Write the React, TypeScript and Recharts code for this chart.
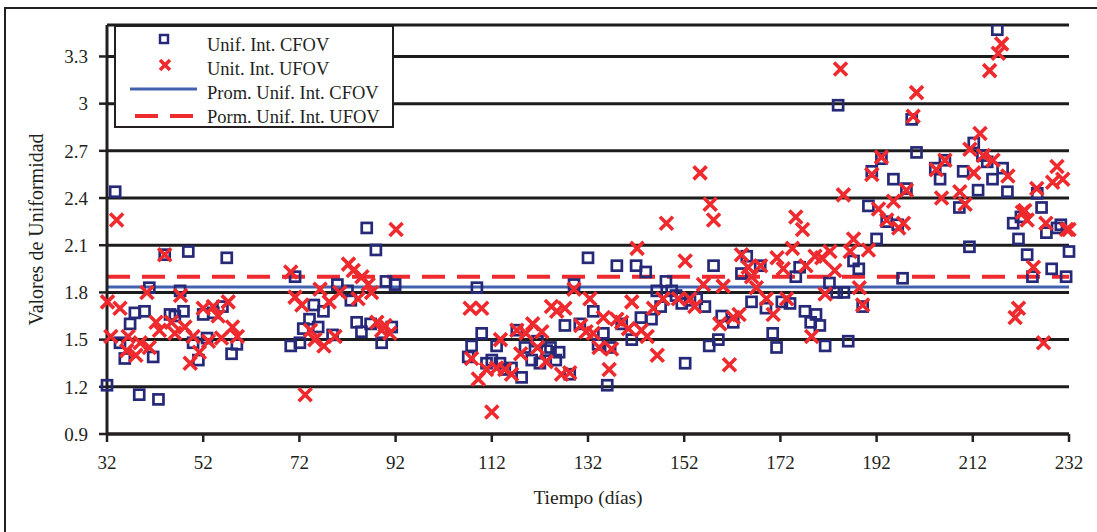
import { CartesianGrid, Label, Legend, ReferenceLine, Scatter, ScatterChart, XAxis, YAxis } from 'recharts';

const dayTicks = [32, 52, 72, 92, 112, 132, 152, 172, 192, 212, 232];
const valueTicks = [0.9, 1.2, 1.5, 1.8, 2.1, 2.4, 2.7, 3, 3.3];

// [día, valor]
const cfovPoints: [number, number][] = [
  [33.7, 2.44], [32, 1.21], [38.7, 1.15], [42.7, 1.12], [34.7, 1.48], [35.7, 1.38], [36.8, 1.6], [37.8, 1.67],
  [39.8, 1.68], [41.6, 1.39], [40.8, 1.83], [44, 2.04], [45.1, 1.66], [46.1, 1.65], [47.9, 1.68], [48.9, 2.06],
  [47.2, 1.81], [49.9, 1.48], [51, 1.37], [52, 1.66], [52.8, 1.51], [54.1, 1.67], [56, 1.71], [56.9, 2.02],
  [57.9, 1.41], [59, 1.47],
  [70.2, 1.46], [72.1, 1.48], [71.1, 1.9], [72.8, 1.57], [74.1, 1.63], [75, 1.72], [75.9, 1.58], [77, 1.68],
  [78.9, 1.53], [79.9, 1.85], [82, 1.81], [82.7, 1.75], [83.9, 1.61], [84.9, 1.55], [86, 2.21], [86.8, 1.6],
  [87.9, 2.07], [89.1, 1.48], [90, 1.87], [91.9, 1.85], [91.2, 1.58],
  [108.9, 1.83], [107.8, 1.46], [107.1, 1.39], [109.9, 1.54], [110.9, 1.35], [112, 1.37], [113, 1.46], [113.7, 1.35],
  [114.7, 1.31], [116.1, 1.32], [117.2, 1.56], [118.2, 1.26], [118.9, 1.45], [120.3, 1.37], [121.5, 1.49], [122, 1.35],
  [123.4, 1.43], [124.2, 1.45], [125.3, 1.37], [126, 1.42], [127.2, 1.59], [128.2, 1.28], [129.1, 1.85], [130.3, 1.6],
  [132, 2.02], [133.1, 1.68], [134.1, 1.47], [135.2, 1.54], [136, 1.21], [136.6, 1.45], [138, 1.97], [139, 1.6],
  [141.1, 1.5], [142, 1.97], [143, 1.64], [144, 1.93], [145.2, 1.63], [146.3, 1.81], [147.1, 1.71], [148.2, 1.87],
  [149.4, 1.81], [150.3, 1.78], [151.5, 1.73], [152.2, 1.35], [153.2, 1.75],
  [154.6, 1.76], [156.3, 1.71], [157.2, 1.46], [158.1, 1.97], [159.1, 1.5], [159.8, 1.65], [162.2, 1.61], [163.9, 1.92],
  [165, 2.03], [166, 1.74], [167.8, 1.97], [169, 1.7], [170.4, 1.54], [171.2, 1.45], [172.3, 1.74], [174, 1.73],
  [175.2, 1.9], [176, 1.96], [177.1, 1.68], [178.3, 1.61], [179.4, 1.66], [180.2, 1.59], [181.3, 1.46], [182.2, 1.86],
  [183.7, 1.8], [184, 2.99], [185.2, 1.8], [186.1, 1.49], [187.2, 2.0], [188.3, 1.95], [189.1, 1.71], [190.3, 2.35],
  [191, 2.57], [192, 2.14], [194.1, 2.25], [196.4, 2.23],
  [193, 2.65], [195.5, 2.52], [197.4, 1.89], [198.2, 2.46], [199.3, 2.9], [200.3, 2.69], [204.2, 2.59], [205.2, 2.52],
  [206.2, 2.64], [209.2, 2.34], [210, 2.57], [211.3, 2.09], [212.2, 2.75], [213.1, 2.45], [214, 2.67], [215, 2.63],
  [216.1, 2.52], [217.1, 3.47], [218.2, 2.59], [219.2, 2.44], [220.4, 2.24], [221.5, 2.14], [222, 2.28], [223.3, 2.04],
  [224.4, 1.9], [225.4, 2.43], [226.3, 2.34], [227.3, 2.18], [228.4, 1.95], [229.5, 2.21], [230.3, 2.23], [231.4, 1.9],
  [232, 2.06],
];

const ufovPoints: [number, number][] = [
  [34, 2.26], [32.1, 1.74], [34.7, 1.7], [32.8, 1.52], [36.4, 1.52], [36.1, 1.43], [38, 1.4], [38.9, 1.48],
  [40.8, 1.45], [40.3, 1.8], [42.2, 1.61], [42.9, 1.56], [44, 2.04], [45.4, 1.61], [46.1, 1.54], [47.3, 1.78],
  [48.2, 1.58], [49.9, 1.52], [49.3, 1.35], [51.2, 1.42], [52, 1.7], [54.1, 1.71], [53.1, 1.49], [55.1, 1.65],
  [55.8, 1.51], [57.2, 1.74], [58.1, 1.58], [59.1, 1.52],
  [70.2, 1.93], [71.1, 1.77], [72.5, 1.72], [73.2, 1.15], [74.3, 1.56], [75.2, 1.5], [76.3, 1.82], [77.1, 1.46],
  [78.2, 1.74], [79.4, 1.52], [80.4, 1.8], [82.2, 1.98], [83.2, 1.94], [85, 1.9], [84.2, 1.76], [86.3, 1.85],
  [87, 1.8], [88.1, 1.61], [89.8, 1.59], [90.8, 1.54], [92.1, 2.2], [89.1, 1.56],
  [107.5, 1.7], [109.9, 1.7], [107.8, 1.38], [109.2, 1.25], [110.9, 1.31], [112, 1.04], [113, 1.32], [113.8, 1.5],
  [114.7, 1.31], [116.1, 1.28], [117.2, 1.56], [118, 1.41], [119.1, 1.54], [120.5, 1.6], [121.5, 1.45], [122.4, 1.55],
  [123.3, 1.36], [124.4, 1.71], [125.5, 1.68], [127.2, 1.7], [126.5, 1.28], [128.2, 1.29], [129.1, 1.82], [130.5, 1.59],
  [131.6, 1.55], [132.4, 1.76], [133.1, 1.54], [134.3, 1.45], [135.2, 1.64], [136.4, 1.31], [136.9, 1.44], [138, 1.63],
  [139, 1.61], [140.4, 1.57], [141.1, 1.74], [142.2, 2.08], [143.1, 1.56], [144.3, 1.52], [145.6, 1.7], [146.4, 1.4],
  [147.6, 1.76], [148.3, 2.24], [150.8, 1.76], [152.2, 2.0], [153.2, 1.76], [154.2, 1.71], [156, 1.85],
  [155.3, 2.56], [157.4, 2.36], [158.1, 2.26], [160.1, 1.84], [159.4, 1.6], [161.4, 1.34], [162.2, 1.64], [163.4, 1.66],
  [163.9, 2.04], [165.3, 1.96], [166, 1.9], [167, 1.83], [167.9, 1.97], [169.1, 1.76], [170.5, 1.66], [171.3, 2.02],
  [172.6, 1.95], [173.3, 1.76], [174.5, 2.08], [175.2, 2.28], [176.6, 2.2], [177.3, 1.97], [178.5, 1.52], [179.2, 2.03],
  [180.6, 2.02], [181.3, 1.79], [182.3, 2.06], [183.3, 1.94], [184.5, 3.22], [185.1, 2.42], [186.5, 2.06], [187.2, 2.14],
  [188.4, 1.83], [189.1, 1.72], [190.3, 2.07], [191, 2.55], [192.4, 2.33], [194.1, 2.26],
  [193, 2.66], [195.5, 2.38], [196.6, 2.21], [197.6, 2.24], [198.2, 2.45], [199.6, 2.92], [200.3, 3.07], [204.4, 2.58],
  [205.5, 2.4], [206.2, 2.64], [209.3, 2.44], [210.4, 2.36], [211.4, 2.71], [212.2, 2.56], [213.5, 2.81], [214.2, 2.67],
  [215.5, 3.21], [216.2, 2.64], [217.3, 3.32], [218, 3.38], [219.3, 2.54], [220.8, 1.64], [221.5, 1.7], [222.3, 2.31],
  [222.8, 2.32], [223.3, 2.26], [224.6, 1.96], [225.3, 2.46], [226.7, 1.48], [227.2, 2.24], [228.6, 2.5], [229.5, 2.6],
  [230.7, 2.52], [231.5, 2.2], [232, 2.2],
];

const cfovMean = 1.835;
const ufovMean = 1.9;

const legendLabels = ['Unif. Int. CFOV', 'Unit. Int. UFOV', 'Prom. Unif. Int. CFOV', 'Porm. Unif. Int. UFOV'];

const NAVY = '#262878';
const RED = '#ee2a2e';
const BLUE = '#4262ae';
const INK = '#231f20';
const FONT = '"Liberation Serif", serif';

function SquareMark(props: any) {
  const { cx, cy } = props;
  if (cx == null || cy == null) return null;
  return <rect x={cx - 5} y={cy - 5} width={10} height={10} fill="none" stroke={NAVY} strokeWidth={2.7} />;
}

function CrossMark(props: any) {
  const { cx, cy } = props;
  if (cx == null || cy == null) return null;
  const r = 6.5;
  return (
    <path
      d={`M${cx - r},${cy - r}L${cx + r},${cy + r}M${cx + r},${cy - r}L${cx - r},${cy + r}`}
      stroke={RED}
      strokeWidth={3.6}
      fill="none"
    />
  );
}

function LegendBox() {
  const rows = [26, 50, 74, 98];
  return (
    <div style={{ width: 280, height: 103, boxSizing: 'border-box', border: `2px solid ${INK}`, background: '#fff' }}>
      <svg width={276} height={99} style={{ display: 'block' }}>
        <rect x={44} y={8} width={8} height={8} fill="none" stroke={NAVY} strokeWidth={2.5} />
        <path d="M44,33L54,43M54,33L44,43" stroke={RED} strokeWidth={3.6} />
        <line x1={14} x2={81} y1={62} y2={62} stroke={BLUE} strokeWidth={3} />
        <line x1={19} x2={77} y1={89} y2={89} stroke={RED} strokeWidth={4} strokeDasharray="23 12" />
        {legendLabels.map((label, i) => (
          <text key={label} x={91} y={rows[i] - 2} fontFamily={FONT} fontSize={18.5} fill={INK}>
            {label}
          </text>
        ))}
      </svg>
    </div>
  );
}

export default function App() {
  return (
    <div style={{ position: 'absolute', left: 0, top: 0, width: 1097, height: 532, overflow: 'hidden', background: '#fff' }}>
      <div
        style={{
          position: 'absolute',
          left: 4,
          top: 7,
          width: 1110,
          height: 540,
          border: `2px solid ${INK}`,
        }}
      />
      <div style={{ position: 'absolute', left: 0, top: 0 }}>
        <ScatterChart width={1097} height={532} margin={{ top: 25, right: 28, bottom: 68, left: 47 }}>
          <CartesianGrid vertical={false} stroke="#1c1c1c" strokeWidth={3} />
          <XAxis
            type="number"
            dataKey="day"
            domain={[32, 232]}
            ticks={dayTicks}
            interval={0}
            height={30}
            tickSize={8}
            tickMargin={14}
            axisLine={{ stroke: INK, strokeWidth: 3 }}
            tickLine={{ stroke: INK, strokeWidth: 2.5 }}
            tick={{ fill: INK, fontSize: 19, fontFamily: FONT }}
          >
            <Label
              value="Tiempo (días)"
              position="bottom"
              offset={26}
              style={{ fill: INK, fontSize: 19.5, fontFamily: FONT }}
            />
          </XAxis>
          <YAxis
            type="number"
            dataKey="value"
            domain={[0.9, 3.5]}
            allowDataOverflow
            ticks={valueTicks}
            interval={0}
            width={60}
            tickSize={8}
            tickMargin={11}
            tickFormatter={(v: number) => String(Number(v.toFixed(1)))}
            axisLine={{ stroke: INK, strokeWidth: 3 }}
            tickLine={{ stroke: INK, strokeWidth: 2.5 }}
            tick={{ fill: INK, fontSize: 19, fontFamily: FONT }}
          >
            <Label
              content={(props: any) => {
                const vb = props.viewBox || {};
                const cy = vb.y + vb.height / 2;
                return (
                  <text
                    x={36}
                    y={cy}
                    transform={`rotate(-90 36 ${cy})`}
                    textAnchor="middle"
                    dominantBaseline="central"
                    fill={INK}
                    fontSize={20}
                    fontFamily={FONT}
                  >
                    Valores de Uniformidad
                  </text>
                );
              }}
            />
          </YAxis>
          <ReferenceLine y={cfovMean} stroke={BLUE} strokeWidth={3} />
          <ReferenceLine y={ufovMean} stroke={RED} strokeWidth={4} strokeDasharray="23 12" />
          <Scatter
            name="Unif. Int. CFOV"
            data={cfovPoints.map(([day, value]) => ({ day, value }))}
            shape={SquareMark}
            isAnimationActive={false}
          />
          <Scatter
            name="Unit. Int. UFOV"
            data={ufovPoints.map(([day, value]) => ({ day, value }))}
            shape={CrossMark}
            isAnimationActive={false}
          />
          <Legend
            layout="vertical"
            align="center"
            verticalAlign="middle"
            wrapperStyle={{ left: 114, top: 25, width: 280, height: 103 }}
            content={() => <LegendBox />}
          />
        </ScatterChart>
      </div>
    </div>
  );
}
